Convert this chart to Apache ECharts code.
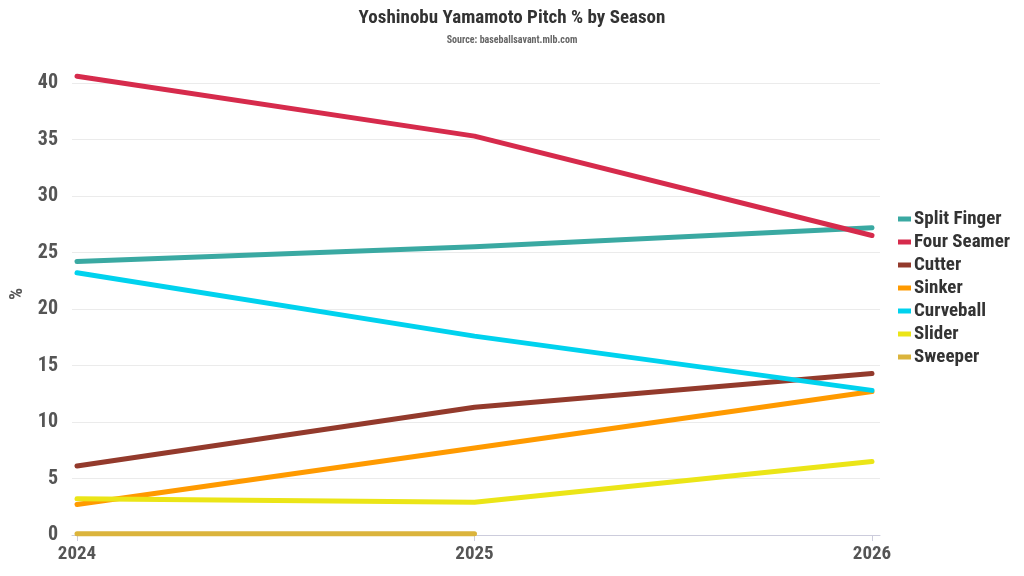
<!DOCTYPE html>
<html>
<head>
<meta charset="utf-8">
<title>Yoshinobu Yamamoto Pitch % by Season</title>
<script src="https://cdn.jsdelivr.net/npm/echarts@6/dist/echarts.min.js"></script>
<style>
    html, body { margin: 0; padding: 0; background: #fff; }
    #chart { width: 1024px; height: 576px; }
</style>
</head>
<body>
<div id="chart"></div>
<script>
// seasons on the x axis
var seasons = [2024, 2025, 2026];

// pitch usage in %, one array per pitch type (null = not thrown)
var splitFinger = [24.2, 25.5, 27.2];
var fourSeamer = [40.6, 35.3, 26.5];
var cutter = [6.1, 11.3, 14.3];
var sinker = [2.7, 7.7, 12.7];
var curveball = [23.2, 17.6, 12.8];
var slider = [3.2, 2.9, 6.5];
var sweeper = [0.1, 0.1, null];

var yTicks = [0, 5, 10, 15, 20, 25, 30, 35, 40];

var FONT = "'Roboto Condensed', 'Liberation Sans Narrow', Roboto, sans-serif";

function pairs(vals) {
    return seasons.map(function (s, i) { return [s, vals[i]]; });
}

function line(name, vals, color) {
    return {
        name: name,
        type: 'line',
        data: pairs(vals),
        showSymbol: false,
        clip: false,
        color: color,
        lineStyle: { width: 5, cap: 'round', join: 'round', color: color }
    };
}

var chart = echarts.init(document.getElementById('chart'));
chart.setOption({
    backgroundColor: '#fff',
    animation: false,
    title: {
        text: 'Yoshinobu Yamamoto Pitch % by Season',
        subtext: 'Source: baseballsavant.mlb.com',
        left: 'center',
        top: 4,
        itemGap: 7,
        textStyle: { fontFamily: FONT, fontWeight: 'bold', fontSize: 19, color: '#333' },
        subtextStyle: { fontFamily: FONT, fontWeight: 'bold', fontSize: 10, color: '#666' }
    },
    legend: {
        orient: 'vertical',
        left: 893,
        top: 'middle',
        icon: 'rect',
        itemWidth: 13,
        itemHeight: 5,
        itemGap: 4,
        textStyle: { fontFamily: FONT, fontWeight: 'bold', fontSize: 19, color: '#333', padding: [0, 0, 0, -2] }
    },
    grid: { left: 72, right: 144, top: 83, bottom: 41, containLabel: false, outerBoundsMode: 'none' },
    xAxis: {
        type: 'value',
        min: 2024 - 5 / 397.5,
        max: 2026 + 8 / 397.5,
        splitLine: { show: false },
        axisLine: { show: true, lineStyle: { color: '#ccccdc' } },
        axisTick: { show: true, length: 6, customValues: seasons, lineStyle: { color: '#ccccdc' } },
        axisLabel: {
            customValues: seasons,
            formatter: function (v) { return String(Math.round(v)); },
            fontFamily: FONT, fontWeight: 'bold', fontSize: 19, color: '#555', margin: 10
        }
    },
    yAxis: {
        type: 'value',
        min: 0,
        max: 40,
        interval: 5,
        name: '%',
        nameLocation: 'middle',
        nameRotate: 90,
        nameGap: 37,
        nameTextStyle: { fontFamily: FONT, fontWeight: 'bold', fontSize: 19, color: '#555', padding: [0, 0, 0, 30] },
        axisLine: { show: false },
        axisTick: { show: false },
        axisLabel: {
            customValues: yTicks,
            fontFamily: FONT, fontWeight: 'bold', fontSize: 20, color: '#555', margin: 14
        },
        splitLine: { lineStyle: { color: '#ebebeb', width: 1 } }
    },
    series: [
        line('Split Finger', splitFinger, '#3aa9a2'),
        line('Four Seamer', fourSeamer, '#d62b4c'),
        line('Cutter', cutter, '#933a2c'),
        line('Sinker', sinker, '#ff9a00'),
        line('Curveball', curveball, '#00d2ee'),
        line('Slider', slider, '#ebe517'),
        line('Sweeper', sweeper, '#dbb43c')
    ]
});
</script>
</body>
</html>
